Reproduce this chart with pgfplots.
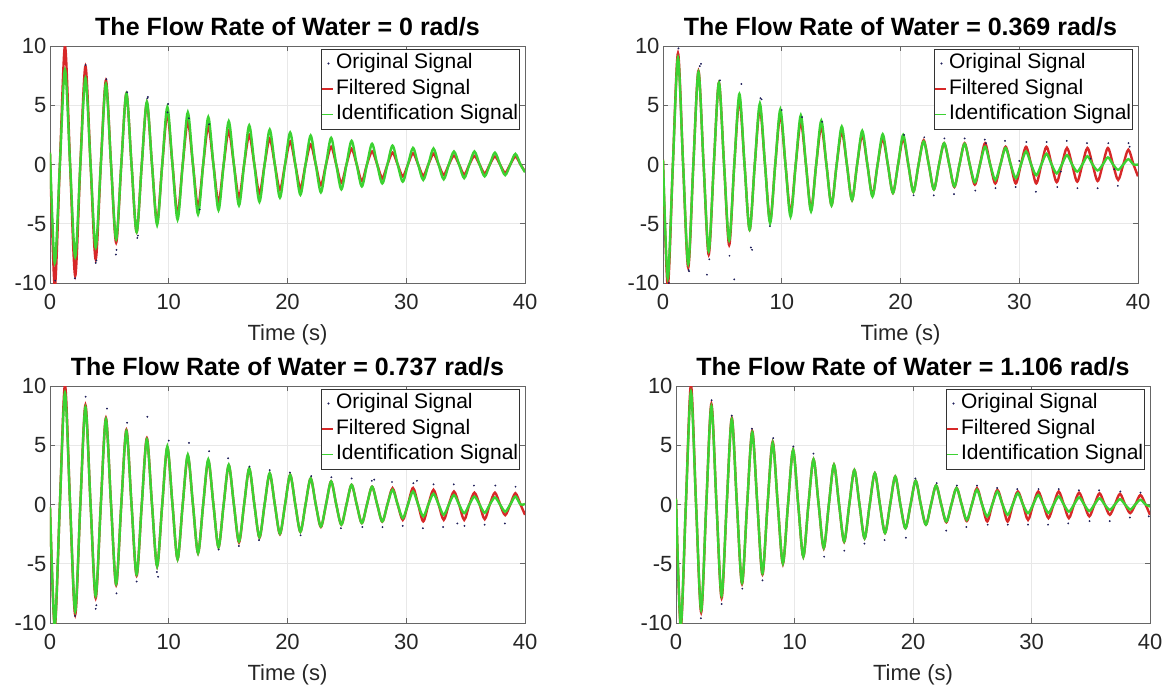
\documentclass[border=0pt]{standalone}
\usepackage{fontspec}
\setmainfont{Liberation Sans}
\usepackage{pgfplots}
\usepackage{pgfplotstable}
\pgfplotsset{compat=1.18}
\definecolor{mred}{RGB}{215,40,40}
\definecolor{mgreen}{RGB}{60,210,50}
\definecolor{mdot}{RGB}{30,30,90}

\pgfplotstableread{
t r g
0.000 1.0 1.0
0.400 -10.3 -8.3
0.831 0 0
1.262 10.0 8.0
1.693 0 0
2.124 -9.4 -7.8
2.555 0 0
2.986 8.3 7.3
3.417 0 0
3.848 -8.0 -7.0
4.279 0 0
4.710 7.1 6.8
5.141 0 0
5.572 -6.6 -6.3
6.003 0 0
6.434 6.0 6.0
6.865 0 0
7.296 -5.7 -5.7
7.727 0 0
8.158 5.2 5.3
8.589 0 0
9.020 -4.9 -5.1
9.451 0 0
9.882 4.3 4.85
10.313 0 0
10.744 -4.2 -4.65
11.175 0 0
11.606 3.65 4.4
12.037 0 0
12.468 -3.6 -4.2
12.899 0 0
13.330 3.25 4.0
13.761 0 0
14.192 -3.2 -3.85
14.623 0 0
15.054 2.85 3.65
15.485 0 0
15.916 -2.8 -3.45
16.347 0 0
16.778 2.5 3.3
17.209 0 0
17.640 -2.45 -3.15
18.071 0 0
18.502 2.2 2.95
18.933 0 0
19.364 -2.15 -2.8
19.795 0 0
20.226 1.95 2.7
20.657 0 0
21.088 -2.0 -2.55
21.519 0 0
21.950 1.7 2.45
22.381 0 0
22.812 -1.75 -2.35
23.243 0 0
23.674 1.5 2.25
24.105 0 0
24.536 -1.55 -2.1
24.967 0 0
25.398 1.32 2.0
25.829 0 0
26.260 -1.4 -1.85
26.691 0 0
27.122 1.1 1.75
27.553 0 0
27.984 -1.15 -1.6
28.415 0 0
28.846 1.0 1.6
29.277 0 0
29.708 -1.0 -1.45
30.139 0 0
30.570 0.95 1.4
31.001 0 0
31.432 -0.95 -1.3
31.863 0 0
32.294 0.9 1.35
32.725 0 0
33.156 -0.88 -1.25
33.587 0 0
34.018 0.75 1.1
34.449 0 0
34.880 -0.85 -1.15
35.311 0 0
35.742 0.72 1.1
36.173 0 0
36.604 -0.75 -1.0
37.035 0 0
37.466 0.68 1.0
37.897 0 0
38.328 -0.7 -0.9
38.759 0 0
39.190 0.67 0.9
39.621 0 0
40.000 -0.6 -0.65
}\datA

\pgfplotstableread{
t r g
0.000 0.4 0.4
0.400 -10.3 -9.6
0.831 0 0
1.262 9.4 9.0
1.693 0 0
2.124 -8.7 -8.4
2.555 0 0
2.986 7.9 7.8
3.417 0 0
3.848 -7.6 -7.3
4.279 0 0
4.710 6.9 6.9
5.141 0 0
5.572 -6.8 -6.4
6.003 0 0
6.434 5.5 5.95
6.865 0 0
7.296 -5.5 -5.5
7.727 0 0
8.158 4.75 5.15
8.589 0 0
9.020 -4.8 -4.95
9.451 0 0
9.882 4.2 4.65
10.313 0 0
10.744 -4.1 -4.4
11.175 0 0
11.606 3.6 4.15
12.037 0 0
12.468 -3.8 -3.95
12.899 0 0
13.330 3.2 3.7
13.761 0 0
14.192 -3.4 -3.45
14.623 0 0
15.054 2.8 3.2
15.485 0 0
15.916 -3.0 -3.0
16.347 0 0
16.778 2.5 2.85
17.209 0 0
17.640 -2.6 -2.7
18.071 0 0
18.502 2.2 2.55
18.933 0 0
19.364 -2.4 -2.4
19.795 0 0
20.226 2.2 2.5
20.657 0 0
21.088 -2.3 -2.3
21.519 0 0
21.950 2.05 1.95
22.381 0 0
22.812 -2.1 -2.1
23.243 0 0
23.674 1.8 1.8
24.105 0 0
24.536 -1.9 -1.85
24.967 0 0
25.398 1.8 1.75
25.829 0 0
26.260 -1.7 -1.5
26.691 0 0
27.122 1.8 1.5
27.553 0 0
27.984 -1.6 -1.3
28.415 0 0
28.846 1.5 1.4
29.277 0 0
29.708 -1.6 -1.15
30.139 0 0
30.570 1.5 1.1
31.001 0 0
31.432 -1.6 -0.9
31.863 0 0
32.294 1.5 0.9
32.725 0 0
33.156 -1.5 -0.75
33.587 0 0
34.018 1.4 0.8
34.449 0 0
34.880 -1.45 -0.6
35.311 0 0
35.742 1.4 0.7
36.173 0 0
36.604 -1.4 -0.5
37.035 0 0
37.466 1.4 0.6
37.897 0 0
38.328 -1.3 -0.45
38.759 0 0
39.190 1.25 0.45
39.621 0 0
40.000 -1.0 0.0
}\datB

\pgfplotstableread{
t r g
0.000 -0.2 -0.2
0.400 -10.4 -10.2
0.831 0 0
1.262 10.1 9.4
1.693 0 0
2.124 -9.3 -9.0
2.555 0 0
2.986 8.4 8.2
3.417 0 0
3.848 -7.9 -7.7
4.279 0 0
4.710 7.3 7.2
5.141 0 0
5.572 -6.8 -6.7
6.003 0 0
6.434 6.3 6.2
6.865 0 0
7.296 -6.0 -5.9
7.727 0 0
8.158 5.6 5.5
8.589 0 0
9.020 -5.2 -5.2
9.451 0 0
9.882 4.8 4.9
10.313 0 0
10.744 -4.6 -4.6
11.175 0 0
11.606 4.1 4.2
12.037 0 0
12.468 -4.1 -4.1
12.899 0 0
13.330 3.7 3.8
13.761 0 0
14.192 -3.6 -3.6
14.623 0 0
15.054 3.3 3.35
15.485 0 0
15.916 -3.2 -3.1
16.347 0 0
16.778 3.0 3.05
17.209 0 0
17.640 -2.8 -2.75
18.071 0 0
18.502 2.6 2.65
18.933 0 0
19.364 -2.5 -2.45
19.795 0 0
20.226 2.5 2.5
20.657 0 0
21.088 -2.3 -2.3
21.519 0 0
21.950 2.2 2.2
22.381 0 0
22.812 -1.9 -1.85
23.243 0 0
23.674 1.95 1.95
24.105 0 0
24.536 -1.7 -1.7
24.967 0 0
25.398 1.66 1.66
25.829 0 0
26.260 -1.57 -1.57
26.691 0 0
27.122 1.5 1.5
27.553 0 0
27.984 -1.45 -1.43
28.415 0 0
28.846 1.38 1.24
29.277 0 0
29.708 -1.3 -1.15
30.139 0 0
30.570 1.4 1.1
31.001 0 0
31.432 -1.43 -1.0
31.863 0 0
32.294 1.24 0.9
32.725 0 0
33.156 -1.3 -0.87
33.587 0 0
34.018 1.1 0.8
34.449 0 0
34.880 -1.3 -0.73
35.311 0 0
35.742 1.0 0.67
36.173 0 0
36.604 -1.24 -0.7
37.035 0 0
37.466 1.0 0.6
37.897 0 0
38.328 -0.9 -0.6
38.759 0 0
39.190 0.95 0.67
39.621 0 0
40.000 -0.87 0.05
}\datC

\pgfplotstableread{
t r g
0.000 0.5 0.5
0.400 -10.4 -10.2
0.831 0 0
1.262 10.1 9.5
1.693 0 0
2.124 -9.1 -8.9
2.555 0 0
2.986 8.5 8.3
3.417 0 0
3.848 -7.9 -7.7
4.279 0 0
4.710 7.3 7.2
5.141 0 0
5.572 -6.7 -6.6
6.003 0 0
6.434 6.2 6.1
6.865 0 0
7.296 -5.9 -5.8
7.727 0 0
8.158 5.3 5.2
8.589 0 0
9.020 -5.0 -4.95
9.451 0 0
9.882 4.6 4.6
10.313 0 0
10.744 -4.4 -4.4
11.175 0 0
11.606 3.8 3.8
12.037 0 0
12.468 -3.7 -3.65
12.899 0 0
13.330 3.35 3.35
13.761 0 0
14.192 -3.15 -3.1
14.623 0 0
15.054 2.9 2.9
15.485 0 0
15.916 -2.85 -2.85
16.347 0 0
16.778 2.64 2.64
17.209 0 0
17.640 -2.4 -2.4
18.071 0 0
18.502 2.36 2.36
18.933 0 0
19.364 -2.0 -2.0
19.795 0 0
20.226 2.0 2.0
20.657 0 0
21.088 -1.7 -1.7
21.519 0 0
21.950 1.6 1.6
22.381 0 0
22.812 -1.5 -1.43
23.243 0 0
23.674 1.4 1.38
24.105 0 0
24.536 -1.4 -1.3
24.967 0 0
25.398 1.38 1.24
25.829 0 0
26.260 -1.43 -1.0
26.691 0 0
27.122 1.24 1.1
27.553 0 0
27.984 -1.43 -0.87
28.415 0 0
28.846 1.1 0.95
29.277 0 0
29.708 -1.3 -0.73
30.139 0 0
30.570 1.1 0.8
31.001 0 0
31.432 -1.15 -0.7
31.863 0 0
32.294 1.1 0.67
32.725 0 0
33.156 -1.15 -0.6
33.587 0 0
34.018 1.0 0.6
34.449 0 0
34.880 -1.0 -0.55
35.311 0 0
35.742 0.95 0.53
36.173 0 0
36.604 -0.87 -0.45
37.035 0 0
37.466 0.9 0.45
37.897 0 0
38.328 -0.73 -0.42
38.759 0 0
39.190 0.8 0.4
39.621 0 0
40.000 -0.87 -0.17
}\datD

\pgfplotsset{
  panel/.style={
    scale only axis, width=475pt, height=237pt,
    xmin=0, xmax=40, ymin=-10, ymax=10,
    xtick={0,10,20,30,40}, ytick={-10,-5,0,5,10},
    grid=major, grid style={gray!18, line width=0.6pt},
    axis line style={black!60, line width=0.8pt},
    tick style={black!60, line width=0.6pt},
    tick align=inside, major tick length=5pt,
    /pgf/number format/assume math mode=true,
    ticklabel style={font=\fontsize{22}{24}\selectfont, text=black!85},
    xticklabel style={yshift=-8pt},
    xlabel={Time (s)},
    every axis x label/.style={at={(axis description cs:0.5,0)}, anchor=center, yshift=-52pt,
      font=\fontsize{22}{24}\selectfont, text=black!85},
    every axis title/.style={at={(axis description cs:0.5,1)}, anchor=base, yshift=11pt,
      font=\bfseries\fontsize{25}{28}\selectfont},
    legend cell align=left,
    legend style={at={(axis description cs:1,1)}, anchor=north east, xshift=-5pt, yshift=-3pt,
      draw=black!80, line width=0.6pt, fill=white,
      font=\fontsize{21}{26}\selectfont, inner xsep=0.5pt, inner ysep=1.5pt,
      row sep=0pt, column sep=1pt,
      nodes={inner xsep=1pt, inner ysep=2.5pt, text height=15.5pt, text depth=5pt}},
  },
  origstyle/.style={only marks, mark=*, mark size=0.7pt, color=mdot,
     legend image code/.code={\fill[mdot] (6pt,0pt) circle (0.7pt);}},
  redstyle/.style={mred, line width=2.4pt, smooth, no marks,
     legend image code/.code={\draw[mred, line width=1.2pt] (0pt,0pt) -- (11pt,0pt);}},
  greenstyle/.style={mgreen, line width=2.4pt, smooth, no marks,
     legend image code/.code={\draw[mgreen, line width=1.2pt] (0pt,0pt) -- (11pt,0pt);}},
}

\begin{document}
\begin{tikzpicture}[x=1pt,y=1pt]
\path[use as bounding box] (0,0) rectangle (1167,-686);

% Panel 1
\begin{axis}[panel, at={(50pt,-283pt)}, anchor=south west,
  title={The Flow Rate of Water = 0 rad/s}]
\addplot[origstyle] coordinates {(3.85,-8.3) (3.9,-8.1) (5.6,-7.2) (5.55,-7.6) (7.35,-6.2) (7.4,-6.0) (8.2,5.6) (8.25,5.7) (9.95,5.1) (9.9,4.4) (0.45,-9.8) (2.1,-9.6) (11.7,3.9) (13.4,3.4) (6.5,6.1) (12.6,-3.8) (4.75,7.2) (3.0,8.4)};
\addlegendentry{Original Signal}
\addplot[redstyle] table[x=t,y=r] {\datA};
\addlegendentry{Filtered Signal}
\addplot[greenstyle] table[x=t,y=g] {\datA};
\addlegendentry{Identification Signal}
\end{axis}

% Panel 2
\begin{axis}[panel, at={(663pt,-283pt)}, anchor=south west,
  title={The Flow Rate of Water = 0.369 rad/s}]
\addplot[origstyle] coordinates {(1.3,9.8) (2.15,-8.9) (2.2,-9.0) (3.2,8.5) (3.1,8.3) (3.7,-9.3) (3.9,-8.0) (4.8,7.1) (5.6,-7.7) (6.0,-9.7) (6.6,6.8) (7.4,-7.0) (7.5,-7.2) (8.3,5.5) (8.2,5.6) (9.0,-5.2) (10.0,4.6) (11.7,4.0) (0.5,-10) (13.4,3.6) (20.3,2.5) (22.0,2.3) (23.7,2.2) (25.4,2.2) (27.1,2.1) (27.2,1.8) (28.0,-2.0) (28.8,2.0) (29.7,-1.9) (30.6,1.9) (31.4,-2.3) (32.3,1.9) (33.2,-1.9) (34.0,2.0) (34.9,-2.0) (35.7,1.8) (36.6,-2.0) (37.5,1.8) (38.3,-1.8) (39.2,1.8) (39.3,1.5) (26.3,-2.2) (24.5,-2.5) (22.8,-2.6) (21.1,-2.6) (36.0,0.5) (33.5,-0.6) (30.0,0.3) (38.0,-0.4)};
\addlegendentry{Original Signal}
\addplot[redstyle] table[x=t,y=r] {\datB};
\addlegendentry{Filtered Signal}
\addplot[greenstyle] table[x=t,y=g] {\datB};
\addlegendentry{Identification Signal}
\end{axis}

% Panel 3
\begin{axis}[panel, at={(50pt,-623pt)}, anchor=south west,
  title={The Flow Rate of Water = 0.737 rad/s}]
\addplot[origstyle] coordinates {(2.1,-9.4) (3.0,9.1) (3.85,-8.8) (3.9,-8.5) (4.8,8.1) (5.6,-7.5) (6.5,6.9) (7.3,-6.5) (8.2,7.4) (9.0,-5.7) (9.1,-6.1) (10.0,5.4) (11.7,5.2) (13.4,4.5) (15.0,3.9) (16.8,3.2) (18.5,2.9) (14.2,-3.8) (15.9,-3.5) (17.6,-3.0) (20.2,2.7) (21.1,-2.6) (22.0,2.4) (23.7,2.3) (24.5,-2.0) (25.4,2.2) (26.3,-1.9) (27.1,2.0) (28.0,-1.9) (28.8,1.9) (29.7,-1.8) (30.6,1.8) (31.4,-2.0) (32.3,1.7) (33.1,-1.9) (34.0,1.7) (34.9,-1.8) (35.7,1.6) (36.6,-1.7) (37.5,1.6) (38.3,-1.6) (39.2,1.5) (34.3,-1.6) (30.9,2.0) (27.3,2.1)};
\addlegendentry{Original Signal}
\addplot[redstyle] table[x=t,y=r] {\datC};
\addlegendentry{Filtered Signal}
\addplot[greenstyle] table[x=t,y=g] {\datC};
\addlegendentry{Identification Signal}
\end{axis}

% Panel 4
\begin{axis}[panel, at={(676pt,-623pt)}, anchor=south west, width=474pt,
  title={The Flow Rate of Water = 1.106 rad/s}]
\addplot[origstyle] coordinates {(2.1,-9.6) (3.0,8.8) (3.85,-8.4) (5.6,-7.1) (7.3,-6.4) (4.7,7.5) (6.4,6.4) (8.2,5.6) (9.9,4.9) (11.6,4.3) (12.5,-4.4) (14.2,-3.9) (15.9,-3.3) (17.6,-3.0) (19.4,-2.8) (20.2,2.2) (22.0,1.8) (23.7,1.6) (25.4,1.6) (26.3,-1.7) (27.1,1.4) (28.0,-1.7) (28.8,1.3) (29.7,-1.7) (30.6,1.3) (31.4,-1.7) (32.3,1.3) (33.1,-1.6) (34.0,1.2) (34.9,-1.4) (35.7,1.2) (36.6,-1.4) (37.5,1.1) (38.3,-1.1) (39.2,1.0) (39.9,-1.0) (24.5,-1.9) (22.8,-2.2)};
\addlegendentry{Original Signal}
\addplot[redstyle] table[x=t,y=r] {\datD};
\addlegendentry{Filtered Signal}
\addplot[greenstyle] table[x=t,y=g] {\datD};
\addlegendentry{Identification Signal}
\end{axis}
\end{tikzpicture}
\end{document}
